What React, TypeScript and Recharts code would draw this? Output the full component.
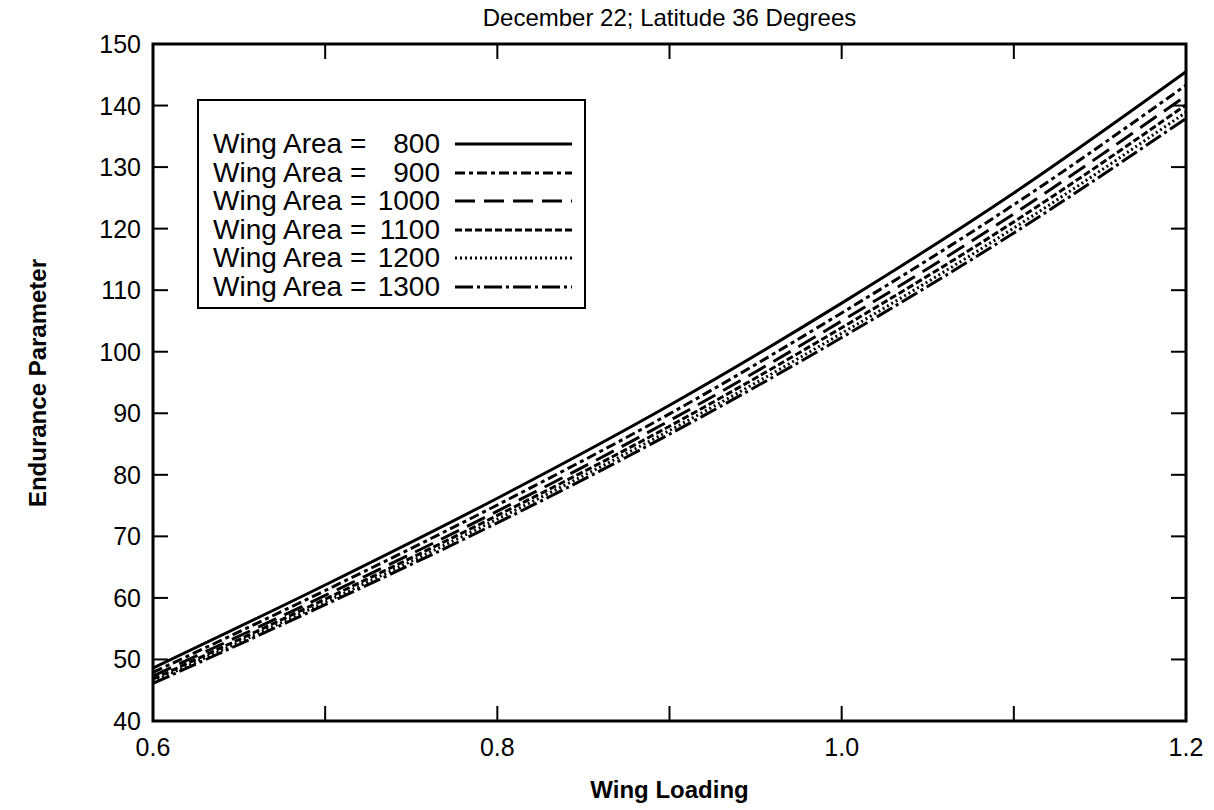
import React from 'react';
import { LineChart, Line, XAxis, YAxis, ReferenceArea, Legend } from 'recharts';

// ---- data ----
const WING_LOADING = [0.6, 0.7, 0.8, 0.9, 1.0, 1.1, 1.2];
const AREA_800 = [48.6, 62.1, 76.2, 91.3, 107.9, 125.8, 145.5];
const AREA_900 = [47.9, 61.2, 75.1, 89.9, 106.3, 123.9, 143.3];
const AREA_1000 = [47.3, 60.4, 74.1, 88.8, 105.0, 122.4, 141.6];
const AREA_1100 = [46.8, 59.8, 73.4, 87.9, 103.9, 121.1, 140.1];
const AREA_1200 = [46.4, 59.3, 72.8, 87.2, 103.0, 120.1, 138.9];
const AREA_1300 = [46.1, 58.9, 72.2, 86.6, 102.3, 119.3, 137.9];

const X_TICKS = [0.6, 0.7, 0.8, 0.9, 1.0, 1.1, 1.2];
const X_LABELED = [0.6, 0.8, 1.0, 1.2];
const Y_TICKS = [40, 50, 60, 70, 80, 90, 100, 110, 120, 130, 140, 150];

const TITLE = 'December 22; Latitude 36 Degrees';
const X_TITLE = 'Wing Loading';
const Y_TITLE = 'Endurance Parameter';
const LEGEND_PREFIX = 'Wing Area =';

const SERIES = [
  { key: 'a800', area: '800', values: AREA_800, dash: undefined as string | undefined },
  { key: 'a900', area: '900', values: AREA_900, dash: '10 4 4 4' },
  { key: 'a1000', area: '1000', values: AREA_1000, dash: '20 9' },
  { key: 'a1100', area: '1100', values: AREA_1100, dash: '7 3' },
  { key: 'a1200', area: '1200', values: AREA_1200, dash: '2 3' },
  { key: 'a1300', area: '1300', values: AREA_1300, dash: '18 4 3 4' },
];

const data = WING_LOADING.map((x, i) => {
  const row: Record<string, number> = { x };
  SERIES.forEach((s) => {
    row[s.key] = s.values[i];
  });
  return row;
});

// ---- layout ----
const W = 1214;
const H = 810;
const PLOT_LEFT = 153;
const PLOT_RIGHT = 1186;
const PLOT_TOP = 44;
const PLOT_BOTTOM = 721;
const TICK_LEN = 15;
const FONT = '"Liberation Sans", Arial, Helvetica, sans-serif';

const XTick = (props: any) => {
  const { x, y, payload } = props;
  const v = payload.value as number;
  const labeled = X_LABELED.some((l) => Math.abs(l - v) < 1e-9);
  return (
    <g>
      <line x1={x} x2={x} y1={y} y2={y - TICK_LEN} stroke="#000" strokeWidth={2} />
      <line x1={x} x2={x} y1={PLOT_TOP} y2={PLOT_TOP + TICK_LEN} stroke="#000" strokeWidth={2} />
      {labeled && (
        <text x={x} y={y + 35} textAnchor="middle" fontSize={25} fontFamily={FONT} fill="#000">
          {v.toFixed(1)}
        </text>
      )}
    </g>
  );
};

const YTick = (props: any) => {
  const { x, y, payload } = props;
  return (
    <g>
      <line x1={x} x2={x + TICK_LEN} y1={y} y2={y} stroke="#000" strokeWidth={2} />
      <line x1={PLOT_RIGHT - TICK_LEN} x2={PLOT_RIGHT} y1={y} y2={y} stroke="#000" strokeWidth={2} />
      <text x={x - 12} y={y + 9} textAnchor="end" fontSize={25} fontFamily={FONT} fill="#000">
        {payload.value}
      </text>
    </g>
  );
};

const LegendBox = () => (
  <div
    style={{
      border: '2px solid #000',
      background: '#fff',
      padding: '29px 12px 6px 14px',
      fontFamily: FONT,
      fontSize: 28,
      color: '#000',
    }}
  >
    {SERIES.map((s) => (
      <div key={s.key} style={{ display: 'flex', alignItems: 'center', height: 28.5 }}>
        <span style={{ width: 159, whiteSpace: 'nowrap' }}>{LEGEND_PREFIX}</span>
        <span style={{ width: 68, textAlign: 'right' }}>{s.area}</span>
        <svg width={117} height={10} style={{ marginLeft: 15 }}>
          <line x1={0} x2={117} y1={5} y2={5} stroke="#000" strokeWidth={3} strokeDasharray={s.dash} />
        </svg>
      </div>
    ))}
  </div>
);

export default function App() {
  return (
    <div style={{ position: 'relative', width: W, height: H, fontFamily: FONT, background: '#fff' }}>
      <style>{'body{margin:0;background:#fff}'}</style>
      <LineChart
        width={W}
        height={H}
        data={data}
        margin={{ top: PLOT_TOP, right: W - PLOT_RIGHT, left: 0, bottom: 0 }}
      >
        <XAxis
          dataKey="x"
          type="number"
          domain={[0.6, 1.2]}
          ticks={X_TICKS}
          height={H - PLOT_BOTTOM}
          axisLine={false}
          tickLine={false}
          tickSize={0}
          tickMargin={0}
          tick={<XTick />}
          interval={0}
        />
        <YAxis
          type="number"
          domain={[40, 150]}
          ticks={Y_TICKS}
          width={PLOT_LEFT}
          axisLine={false}
          tickLine={false}
          tickSize={0}
          tickMargin={0}
          tick={<YTick />}
          interval={0}
        />
        <ReferenceArea x1={0.6} x2={1.2} y1={40} y2={150} fill="none" stroke="#000" strokeWidth={3} />
        {SERIES.map((s) => (
          <Line
            key={s.key}
            dataKey={s.key}
            name={s.area}
            type="monotone"
            stroke="#000"
            strokeWidth={3}
            strokeDasharray={s.dash}
            dot={false}
            activeDot={false}
            isAnimationActive={false}
          />
        ))}
        <Legend
          layout="vertical"
          align="center"
          verticalAlign="middle"
          content={<LegendBox />}
          wrapperStyle={{ left: 197, top: 99, width: 389, height: 'auto' }}
        />
      </LineChart>
      <div
        style={{
          position: 'absolute',
          left: (PLOT_LEFT + PLOT_RIGHT) / 2,
          top: 6,
          transform: 'translateX(-50%)',
          fontSize: 24,
          lineHeight: '24px',
          whiteSpace: 'nowrap',
          color: '#000',
        }}
      >
        {TITLE}
      </div>
      <div
        style={{
          position: 'absolute',
          left: (PLOT_LEFT + PLOT_RIGHT) / 2,
          top: 778,
          transform: 'translateX(-50%)',
          fontSize: 24,
          lineHeight: '24px',
          fontWeight: 'bold',
          whiteSpace: 'nowrap',
          color: '#000',
        }}
      >
        {X_TITLE}
      </div>
      <div
        style={{
          position: 'absolute',
          left: 38,
          top: 383,
          transform: 'translate(-50%, -50%) rotate(-90deg)',
          fontSize: 24,
          lineHeight: '24px',
          fontWeight: 'bold',
          whiteSpace: 'nowrap',
          color: '#000',
        }}
      >
        {Y_TITLE}
      </div>
    </div>
  );
}
